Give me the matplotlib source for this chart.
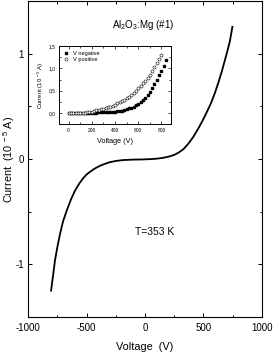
import matplotlib
matplotlib.use("Agg")
import matplotlib.pyplot as plt
from matplotlib.ticker import MultipleLocator

plt.rcParams['font.family'] = ['Liberation Sans', 'DejaVu Sans']
plt.rcParams['mathtext.fontset'] = 'custom'
plt.rcParams['mathtext.rm'] = 'Liberation Sans'
plt.rcParams['mathtext.it'] = 'Liberation Sans'

# Main I-V curve (voltage in V, current in 1e-5 A)
main_v = [-803, -785, -769, -748, -726, -700, -669, -635, -598, -563, -527, -495, -470,
          -442, -415, -385, -348, -299, -245, -185, -100, -14, 50, 100, 150, 185, 220,
          256, 293, 330, 370, 410, 456, 490, 513, 541, 564, 600, 627, 660, 698, 725, 747]
main_i = [-1.25, -1.10, -0.96, -0.83, -0.71, -0.59, -0.49, -0.39, -0.30, -0.235, -0.18,
          -0.143, -0.122, -0.100, -0.082, -0.065, -0.048, -0.03, -0.018, -0.01, -0.006,
          -0.004, -0.001, 0.003, 0.010, 0.018, 0.028, 0.042, 0.065, 0.095, 0.145, 0.205,
          0.29, 0.36, 0.41, 0.475, 0.53, 0.635, 0.725, 0.845, 1.0, 1.115, 1.255]

# Inset data
neg_v = list(range(0, 841, 20))
neg_i = [0.000, 0.000, 0.001, 0.001, 0.002, 0.003, 0.004, 0.005, 0.006, 0.008, 0.009,
         0.011, 0.013, 0.015, 0.017, 0.020, 0.022, 0.025, 0.028, 0.031, 0.035, 0.042,
         0.050, 0.058, 0.072, 0.088, 0.106, 0.125, 0.147, 0.172, 0.203, 0.240, 0.285,
         0.338, 0.400, 0.475, 0.560, 0.650, 0.745, 0.845, 0.950, 1.06, 1.18]
pos_v = list(range(0, 801, 20))
pos_i = [0.000, 0.001, 0.002, 0.003, 0.005, 0.007, 0.010, 0.014, 0.019, 0.026, 0.036,
         0.047, 0.060, 0.071, 0.083, 0.096, 0.111, 0.127, 0.146, 0.168, 0.192, 0.218,
         0.245, 0.273, 0.303, 0.335, 0.370, 0.410, 0.452, 0.500, 0.552, 0.607, 0.665,
         0.726, 0.790, 0.860, 0.940, 1.020, 1.110, 1.200, 1.300]

main_xticks = [-1000, -500, 0, 500, 1000]
main_yticks = [-1, 0, 1]
inset_xticks = [0, 200, 400, 600, 800]
inset_yticks = [0.0, 0.5, 1.0, 1.5]
inset_yticklabels = ['0,0', '0,5', '1,0', '1,5']

fig = plt.figure(figsize=(2.74, 3.56), dpi=100)
ax = fig.add_axes([0.1022, 0.1096, 0.854, 0.8876])
ax.plot(main_v, main_i, color='black', lw=1.3)
ax.set_xlim(-1000, 1000)
ax.set_ylim(-1.5, 1.5)
ax.set_xticks(main_xticks)
ax.set_xticklabels([str(t) for t in main_xticks])
ax.set_yticks(main_yticks)
ax.set_yticklabels([str(t) for t in main_yticks])
ax.xaxis.set_minor_locator(MultipleLocator(250))
ax.yaxis.set_minor_locator(MultipleLocator(0.5))
ax.tick_params(which='both', direction='in', top=True, right=True, labelsize=7, width=0.7)
ax.tick_params(which='major', length=3, pad=4)
ax.tick_params(axis='y', which='major', pad=3)
ax.tick_params(which='minor', length=1.8)
for s in ax.spines.values():
    s.set_linewidth(0.8)
ax.set_xlabel('Voltage  (V)', fontsize=7.8, labelpad=7)
ax.set_ylabel(r'Current  (10$^{\ -5}$ A)', fontsize=7.8)
ax.yaxis.set_label_coords(-0.045, 0.5)
ax.text(-17, 1.27, r'Al$_2$O$_3$:Mg (#1)', fontsize=7, ha='center', va='center')
ax.text(85, -0.69, 'T=353 K', fontsize=7.4, ha='center', va='center')

ins = fig.add_axes([0.2165, 0.6508, 0.4066, 0.22])
ins.plot(neg_v, neg_i, linestyle='none', marker='s', markersize=1.6, color='black',
         label='V negative')
ins.plot(pos_v, pos_i, linestyle='none', marker='o', markersize=2.2, markerfacecolor='white',
         markeredgecolor='black', markeredgewidth=0.4, label='V positive')
ins.set_xlim(-80, 880)
ins.set_ylim(-0.25, 1.5)
ins.set_xticks(inset_xticks)
ins.set_xticklabels([str(t) for t in inset_xticks])
ins.set_yticks(inset_yticks)
ins.set_yticklabels(inset_yticklabels)
ins.xaxis.set_minor_locator(MultipleLocator(100))
ins.yaxis.set_minor_locator(MultipleLocator(0.25))
ins.tick_params(which='both', direction='in', top=True, right=True, labelsize=3.5, width=0.5, pad=2.5)
ins.tick_params(which='major', length=2)
ins.tick_params(which='minor', length=1.2)
for s in ins.spines.values():
    s.set_linewidth(0.7)
ins.set_xlabel('Voltage (V)', fontsize=5.2, labelpad=4)
ins.set_ylabel(r'Current (10$^{\ -5}$ A)', fontsize=4.3, labelpad=2)
ins.legend(loc='upper left', fontsize=4.1, frameon=False, handlelength=0.8,
           handletextpad=0.8, borderaxespad=0.4, labelspacing=0.3, markerscale=1.0)

fig.savefig('out.png', dpi=100)
